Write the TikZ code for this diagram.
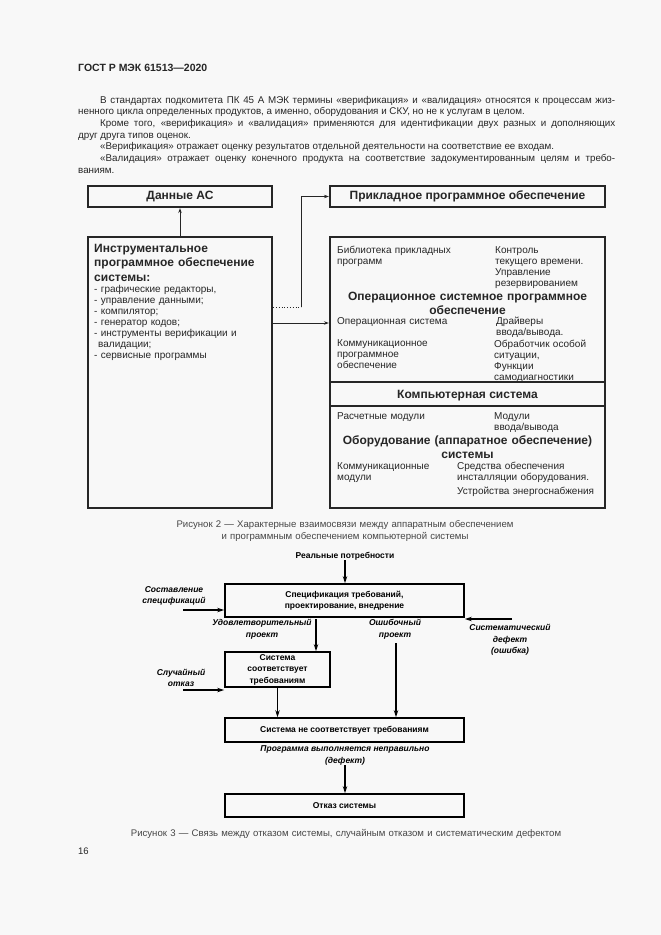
\documentclass[tikz,border=0pt]{standalone}
\usepackage{fontspec}
\setmainfont{Liberation Sans}
\usepackage{tikz}
\usetikzlibrary{arrows.meta}
\usetikzlibrary{calc}
\definecolor{pagebg}{RGB}{248,248,248}
\definecolor{ink}{RGB}{38,38,38}
\definecolor{capink}{RGB}{70,70,70}
\tikzset{
	swbox/.style={draw=ink,line width=2.2pt,inner sep=0pt},
	swhead/.style={font=\fontsize{12}{14.5}\selectfont\bfseries,text=ink,inner sep=0pt,align=center},
	swtext/.style={font=\fontsize{10}{11}\selectfont,text=ink,inner sep=0pt,align=left,anchor=base west,text width=170pt},
	thinarr/.style={-{Stealth[length=5pt,width=3.5pt]},line width=0.8pt,draw=ink},
	flowbox/.style={draw=black,line width=1.8pt,inner sep=0pt,align=center,
		font=\fontsize{8.5}{11.5}\selectfont\bfseries},
	flowtext/.style={font=\fontsize{8.5}{11.5}\selectfont\bfseries,inner sep=0pt,align=center},
	flowlabel/.style={font=\fontsize{8.5}{11.5}\selectfont\bfseries\itshape,inner sep=0pt,align=center},
	thickarr/.style={-{Stealth[length=7pt,width=4.5pt]},line width=1.8pt,draw=black},
	captext/.style={font=\fontsize{9.6}{12}\selectfont,text=capink,inner sep=0pt,align=center,anchor=base,text width=500pt},
}
\begin{document}
\begin{tikzpicture}[x=1pt,y=-1pt]
\useasboundingbox (0,0) rectangle (661,935);
\fill[pagebg] (0,0) rectangle (661,935);

% page head and text
\node[anchor=base west,font=\fontsize{10.5}{12}\selectfont\bfseries,text=ink,inner sep=0pt] (head) at (78,71) {ГОСТ Р МЭК 61513—2020};
\node[anchor=base west,text width=537pt,align=justify,inner sep=0pt,text=ink,
	font=\fontsize{9.8}{11.7}\selectfont] (intro) at (78,103) {\tolerance=10000
	\hspace*{22pt}В стандартах подкомитета ПК 45 А МЭК термины «верификация» и «валидация» относятся к процессам жиз-\linebreak
	ненного цикла определенных продуктов, а именно, оборудования и СКУ, но не к услугам в целом.\par
	\hspace*{22pt}Кроме того, «верификация» и «валидация» применяются для идентификации двух разных и дополняющих\linebreak
	друг друга типов оценок.\par
	\hspace*{22pt}«Верификация» отражает оценку результатов отдельной деятельности на соответствие ее входам.\par
	\hspace*{22pt}«Валидация» отражает оценку конечного продукта на соответствие задокументированным целям и требо-\linebreak
	ваниям.\par};

% figure 2
\begin{scope}
	\node[swbox,minimum width=184pt,minimum height=21pt] (data) at (180,196.5) {};
	\node[swhead] (datat) at (data.center) {Данные АС};
	\node[swbox,minimum width=275pt,minimum height=21pt] (apps) at (467.5,196.5) {};
	\node[swhead] (appst) at (apps.center) {Прикладное программное обеспечение};
	\node[swbox,minimum width=184pt,minimum height=271pt] (tools) at (180,372.5) {};
	\node[swbox,minimum width=275pt,minimum height=271pt] (sys) at (467.5,372.5) {};
	\draw[ink,line width=2.6pt] (330,382)--(605,382);
	\draw[ink,line width=2pt] (330,406)--(605,406);
	% tools
	\node[swhead,align=left,anchor=base west,text width=175pt] (toolsh) at (94,252) {Инструментальное\\программное обеспечение\\системы:};
	\node[swtext] (toolsl) at (94,292) {- графические редакторы,\\- управление данными;\\- компилятор;\\- генератор кодов;\\- инструменты верификации и\\\hspace*{4pt}валидации;\\- сервисные программы};
	% software
	\node[swtext] (lib) at (337,253) {Библиотека прикладных\\программ};
	\node[swtext,text width=105pt] (clock) at (495,253) {Контроль\\текущего времени.\\Управление\\резервированием};
	\node[swhead,anchor=base,text width=270pt] (ossw) at (467.5,300) {Операционное системное программное\\обеспечение};
	\node[swtext] (opsys) at (337,324) {Операционная система};
	\node[swtext,text width=105pt] (drv) at (496,324) {Драйверы\\ввода/вывода.};
	\node[swtext,text width=150pt] (comsw) at (337,346) {Коммуникационное\\программное\\обеспечение};
	\node[swtext,text width=105pt] (exc) at (494,347) {Обработчик особой\\ситуации,\\Функции\\самодиагностики};
	\node[swhead,anchor=base] (comp) at (467.5,398) {Компьютерная система};
	% hardware
	\node[swtext] (calc) at (337,419) {Расчетные модули};
	\node[swtext,text width=105pt] (iomod) at (494,419) {Модули\\ввода/вывода};
	\node[swhead,anchor=base,text width=270pt] (hw) at (467.5,444) {Оборудование (аппаратное обеспечение)\\системы};
	\node[swtext,text width=115pt] (commod) at (337,469) {Коммуникационные\\модули};
	\node[swtext,text width=145pt] (inst) at (457,469) {Средства обеспечения\\инсталляции оборудования.};
	\node[swtext,text width=145pt] (power) at (457,494) {Устройства энергоснабжения};
	% connectors
	\draw[thinarr] (tools.north)--(data.south);
	\draw[ink,line width=0.8pt,dotted] ([yshift=65.5pt]tools.east)--++(28,0) coordinate (turn);
	\draw[thinarr] (turn)|-(apps.west);
	\draw[thinarr] ([yshift=49.5pt]tools.east)--([yshift=49.5pt]sys.west);
\end{scope}
\node[captext] (cap2) at (345,527) {Рисунок 2 — Характерные взаимосвязи между аппаратным обеспечением\\и программным обеспечением компьютерной системы};

% figure 3
\begin{scope}
	\node[flowtext] (needs) at (345,556) {Реальные потребности};
	\node[flowbox,minimum width=239pt,minimum height=33pt] (spec) at (344.5,600.5) {Спецификация требований,\\проектирование, внедрение};
	\node[flowbox,minimum width=105pt,minimum height=35pt] (ok) at (277.5,669.5) {Система\\соответствует\\требованиям};
	\node[flowbox,minimum width=239pt,minimum height=24pt] (notok) at (344.5,730) {Система не соответствует требованиям};
	\node[flowbox,minimum width=239pt,minimum height=23pt] (fail) at (344.5,805.5) {Отказ системы};
	\node[flowlabel] (compose) at (174,596) {Составление\\спецификаций};
	\node[flowlabel] (good) at (262,629) {Удовлетворительный\\проект};
	\node[flowlabel] (bad) at (395,629) {Ошибочный\\проект};
	\node[flowlabel] (sysdef) at (510,640) {Систематический\\дефект\\(ошибка)};
	\node[flowlabel] (random) at (181,678) {Случайный\\отказ};
	\node[flowlabel] (defect) at (345,755.5) {Программа выполняется неправильно\\(дефект)};
	\coordinate (composein) at (183,610);
	\coordinate (sysdefin) at (512,619);
	\coordinate (goodout) at (316,619);
	\coordinate (badout) at (396,643);
	\coordinate (randomin) at (183,690);
	\draw[thickarr] (needs.south)--(needs.south |- spec.north);
	\draw[thickarr] (composein)--(composein -| spec.west);
	\draw[thickarr] (sysdefin)--(sysdefin -| spec.east);
	\draw[thickarr] (goodout)--(goodout |- ok.north);
	\draw[thickarr] (badout)--(badout |- notok.north);
	\draw[thickarr] (randomin)--(randomin -| ok.west);
	\draw[thickarr] (ok.south)--(ok.south |- notok.north);
	\draw[thickarr] (defect.south)--(defect.south |- fail.north);
\end{scope}
\node[captext] (cap3) at (346,836) {Рисунок 3 — Связь между отказом системы, случайным отказом и систематическим дефектом};

\node[anchor=base west,font=\fontsize{9.5}{12}\selectfont,text=ink,inner sep=0pt] (page) at (78,854) {16};
\end{tikzpicture}
\end{document}
